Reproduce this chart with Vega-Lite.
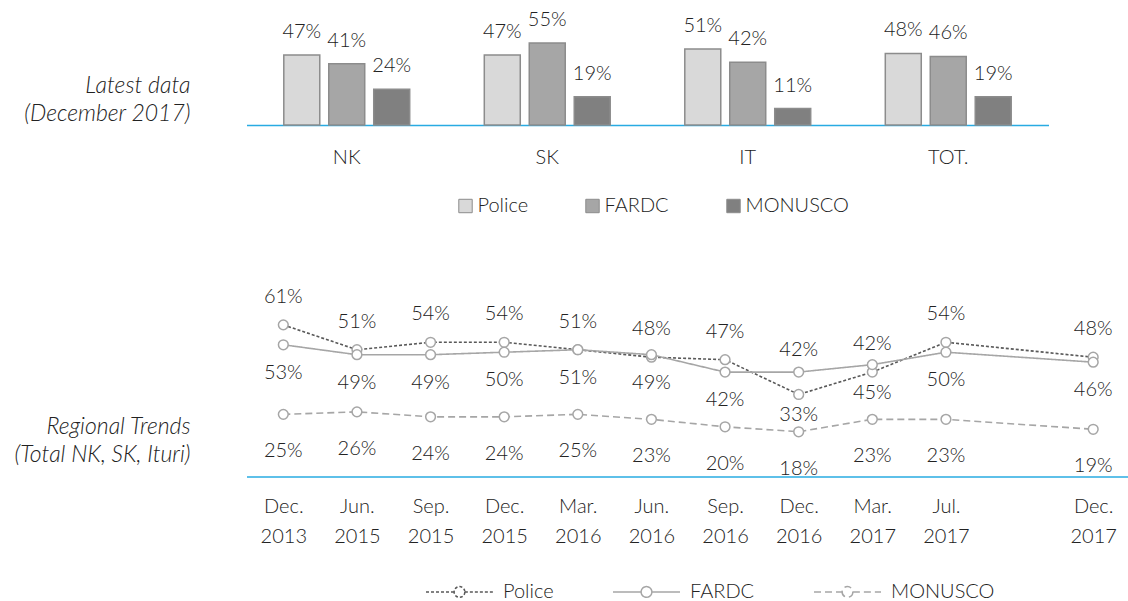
{
  "$schema": "https://vega.github.io/schema/vega-lite/v6.json",
  "autosize": {"type": "none"},
  "padding": {"left": 246.5, "top": 35.5, "right": 881.5, "bottom": 565.5},
  "background": "white",
  "config": {
    "font": "Lato",
    "view": {"stroke": null},
    "axis": {"labelFont": "Lato", "titleFont": "Lato", "labelColor": "#222222", "titleColor": "#222222", "labelFontWeight": 300, "grid": false, "ticks": false},
    "legend": {"labelFont": "Lato", "labelColor": "#222222", "labelFontSize": 20, "labelFontWeight": 300, "padding": 0},
    "text": {"fontWeight": 300}
  },
  "resolve": {
    "scale": {"color": "independent", "strokeDash": "independent"},
    "legend": {"color": "independent", "strokeDash": "independent"}
  },
  "datasets": {
    "bars": [
      {"region": "NK", "force": "Police", "pct": 0.47},
      {"region": "NK", "force": "FARDC", "pct": 0.41},
      {"region": "NK", "force": "MONUSCO", "pct": 0.24},
      {"region": "SK", "force": "Police", "pct": 0.47},
      {"region": "SK", "force": "FARDC", "pct": 0.55},
      {"region": "SK", "force": "MONUSCO", "pct": 0.19},
      {"region": "IT", "force": "Police", "pct": 0.51},
      {"region": "IT", "force": "FARDC", "pct": 0.42},
      {"region": "IT", "force": "MONUSCO", "pct": 0.11},
      {"region": "TOT.", "force": "Police", "pct": 0.48},
      {"region": "TOT.", "force": "FARDC", "pct": 0.46},
      {"region": "TOT.", "force": "MONUSCO", "pct": 0.19}
    ],
    "trends": [
      {"period": "Dec. 2013", "series": "Police", "pct": 0.61},
      {"period": "Dec. 2013", "series": "FARDC", "pct": 0.53},
      {"period": "Dec. 2013", "series": "MONUSCO", "pct": 0.25},
      {"period": "Jun. 2015", "series": "Police", "pct": 0.51},
      {"period": "Jun. 2015", "series": "FARDC", "pct": 0.49},
      {"period": "Jun. 2015", "series": "MONUSCO", "pct": 0.26},
      {"period": "Sep. 2015", "series": "Police", "pct": 0.54},
      {"period": "Sep. 2015", "series": "FARDC", "pct": 0.49},
      {"period": "Sep. 2015", "series": "MONUSCO", "pct": 0.24},
      {"period": "Dec. 2015", "series": "Police", "pct": 0.54},
      {"period": "Dec. 2015", "series": "FARDC", "pct": 0.50},
      {"period": "Dec. 2015", "series": "MONUSCO", "pct": 0.24},
      {"period": "Mar. 2016", "series": "Police", "pct": 0.51},
      {"period": "Mar. 2016", "series": "FARDC", "pct": 0.51},
      {"period": "Mar. 2016", "series": "MONUSCO", "pct": 0.25},
      {"period": "Jun. 2016", "series": "Police", "pct": 0.48},
      {"period": "Jun. 2016", "series": "FARDC", "pct": 0.49},
      {"period": "Jun. 2016", "series": "MONUSCO", "pct": 0.23},
      {"period": "Sep. 2016", "series": "Police", "pct": 0.47},
      {"period": "Sep. 2016", "series": "FARDC", "pct": 0.42},
      {"period": "Sep. 2016", "series": "MONUSCO", "pct": 0.20},
      {"period": "Dec. 2016", "series": "Police", "pct": 0.33},
      {"period": "Dec. 2016", "series": "FARDC", "pct": 0.42},
      {"period": "Dec. 2016", "series": "MONUSCO", "pct": 0.18},
      {"period": "Mar. 2017", "series": "Police", "pct": 0.42},
      {"period": "Mar. 2017", "series": "FARDC", "pct": 0.45},
      {"period": "Mar. 2017", "series": "MONUSCO", "pct": 0.23},
      {"period": "Jul. 2017", "series": "Police", "pct": 0.54},
      {"period": "Jul. 2017", "series": "FARDC", "pct": 0.50},
      {"period": "Jul. 2017", "series": "MONUSCO", "pct": 0.23},
      {"period": "Dec. 2017", "series": "Police", "pct": 0.48},
      {"period": "Dec. 2017", "series": "FARDC", "pct": 0.46},
      {"period": "Dec. 2017", "series": "MONUSCO", "pct": 0.19}
    ]
  },
  "bounds": "flush",
  "spacing": 177,
  "vconcat": [
    {
      "width": 802,
      "height": 89.5,
      "data": {"name": "bars"},
      "encoding": {
        "x": {"field": "region", "type": "nominal", "sort": ["NK", "SK", "IT", "TOT."],
          "scale": {"paddingInner": 0.372, "paddingOuter": 0.186},
          "axis": {"title": null, "labelAngle": 0, "labelFontSize": 20, "labelPadding": 22, "labelBaseline": "top", "domainColor": "#29ABE2", "domainWidth": 1.5}},
        "xOffset": {"field": "force", "type": "nominal", "sort": ["Police", "FARDC", "MONUSCO"],
          "scale": {"paddingInner": 0.2, "paddingOuter": 0}},
        "y": {"field": "pct", "type": "quantitative", "scale": {"domain": [0, 0.6]},
          "axis": {"title": ["Latest data", "(December 2017)"], "labels": false, "domain": false, "ticks": false, "grid": false,
            "titleAngle": 0, "titleAlign": "right", "titleBaseline": "alphabetic", "titleX": -56.5, "titleY": 56.5,
            "titleFontStyle": "italic", "titleFontWeight": 300, "titleFontSize": 23, "titleLineHeight": 28}}
      },
      "layer": [
        {
          "mark": {"type": "bar", "stroke": "#8c8c8c", "strokeWidth": 1.5},
          "encoding": {
            "color": {"field": "force", "type": "nominal",
              "scale": {"domain": ["Police", "FARDC", "MONUSCO"], "range": ["#D9D9D9", "#A6A6A6", "#808080"]},
              "legend": {"title": null, "orient": "none", "direction": "horizontal", "legendX": 209, "legendY": 160.5,
                "symbolType": "square", "symbolSize": 180, "symbolStrokeColor": "#8c8c8c", "symbolStrokeWidth": 1,
                "labelOffset": 2, "columnPadding": 54}}
          }
        },
        {
          "mark": {"type": "text", "baseline": "alphabetic", "dy": -17, "fontSize": 20, "color": "#222222"},
          "encoding": {"text": {"field": "pct", "type": "quantitative", "format": ".0%"}}
        }
      ]
    },
    {
      "width": 883.5,
      "height": 174,
      "data": {"name": "trends"},
      "encoding": {
        "x": {"field": "period", "type": "ordinal",
          "scale": {"type": "point", "padding": 0.5,
            "domain": ["Dec. 2013", "Jun. 2015", "Sep. 2015", "Dec. 2015", "Mar. 2016", "Jun. 2016", "Sep. 2016", "Dec. 2016", "Mar. 2017", "Jul. 2017", "gap", "Dec. 2017"]},
          "axis": {"title": null, "labelAngle": 0, "labelFontSize": 20, "labelPadding": 20, "labelBaseline": "top", "labelLineHeight": 30,
            "labelExpr": "datum.label == 'gap' ? '' : split(datum.label, ' ')", "domainColor": "#29ABE2", "domainWidth": 1.5}},
        "y": {"field": "pct", "type": "quantitative", "scale": {"domain": [0, 0.7]},
          "axis": {"title": ["Regional Trends", "(Total NK, SK, Ituri)"], "labels": false, "domain": false, "ticks": false, "grid": false,
            "titleAngle": 0, "titleAlign": "right", "titleBaseline": "alphabetic", "titleX": -56.5, "titleY": 130.8,
            "titleFontStyle": "italic", "titleFontWeight": 300, "titleFontSize": 23, "titleLineHeight": 28.4}}
      },
      "layer": [
        {
          "mark": {"type": "line", "strokeWidth": 1.6},
          "encoding": {
            "color": {"field": "series", "type": "nominal",
              "scale": {"domain": ["Police", "FARDC", "MONUSCO"], "range": ["#595959", "#A6A6A6", "#A6A6A6"]},
              "legend": {"title": null, "orient": "none", "direction": "horizontal", "legendX": 178.5, "legendY": 254.7,
                "symbolType": "M-1,0L-0.16,0M0.16,0A0.16,0.16 0 1,1 -0.16,0A0.16,0.16 0 1,1 0.16,0M0.16,0L1,0",
                "symbolSize": 4489, "symbolStrokeWidth": 1.5, "symbolFillColor": "white", "labelOffset": 9, "columnPadding": 56}},
            "strokeDash": {"field": "series", "type": "nominal",
              "scale": {"domain": ["Police", "FARDC", "MONUSCO"], "range": [[3, 2], [1, 0], [7, 4]]},
              "legend": {"title": null, "orient": "none", "direction": "horizontal", "legendX": 178.5, "legendY": 254.7,
                "symbolType": "M-1,0L-0.16,0M0.16,0A0.16,0.16 0 1,1 -0.16,0A0.16,0.16 0 1,1 0.16,0M0.16,0L1,0",
                "symbolSize": 4489, "symbolStrokeWidth": 1.5, "symbolFillColor": "white", "labelOffset": 9, "columnPadding": 56}}
          }
        },
        {
          "mark": {"type": "point", "shape": "circle", "filled": true, "fill": "white", "stroke": "#A6A6A6", "strokeWidth": 1.5, "size": 95, "opacity": 1},
          "encoding": {"detail": {"field": "series"}}
        },
        {
          "transform": [{"filter": "datum.series == 'Police' && datum.period != 'Dec. 2016'"}],
          "mark": {"type": "text", "baseline": "alphabetic", "dy": -22, "fontSize": 20, "color": "#222222"},
          "encoding": {"text": {"field": "pct", "type": "quantitative", "format": ".0%"}}
        },
        {
          "transform": [{"filter": "datum.series == 'FARDC' && datum.period != 'Dec. 2016'"}],
          "mark": {"type": "text", "baseline": "alphabetic", "dy": 34, "fontSize": 20, "color": "#222222"},
          "encoding": {"text": {"field": "pct", "type": "quantitative", "format": ".0%"}}
        },
        {
          "transform": [{"filter": "datum.series == 'MONUSCO'"}],
          "mark": {"type": "text", "baseline": "alphabetic", "dy": 43, "fontSize": 20, "color": "#222222"},
          "encoding": {"text": {"field": "pct", "type": "quantitative", "format": ".0%"}}
        },
        {
          "transform": [{"filter": "datum.series == 'Police' && datum.period == 'Dec. 2016'"}],
          "mark": {"type": "text", "baseline": "alphabetic", "dy": 27, "fontSize": 20, "color": "#222222"},
          "encoding": {"text": {"field": "pct", "type": "quantitative", "format": ".0%"}}
        },
        {
          "transform": [{"filter": "datum.series == 'FARDC' && datum.period == 'Dec. 2016'"}],
          "mark": {"type": "text", "baseline": "alphabetic", "dy": -16, "fontSize": 20, "color": "#222222"},
          "encoding": {"text": {"field": "pct", "type": "quantitative", "format": ".0%"}}
        }
      ]
    }
  ]
}
